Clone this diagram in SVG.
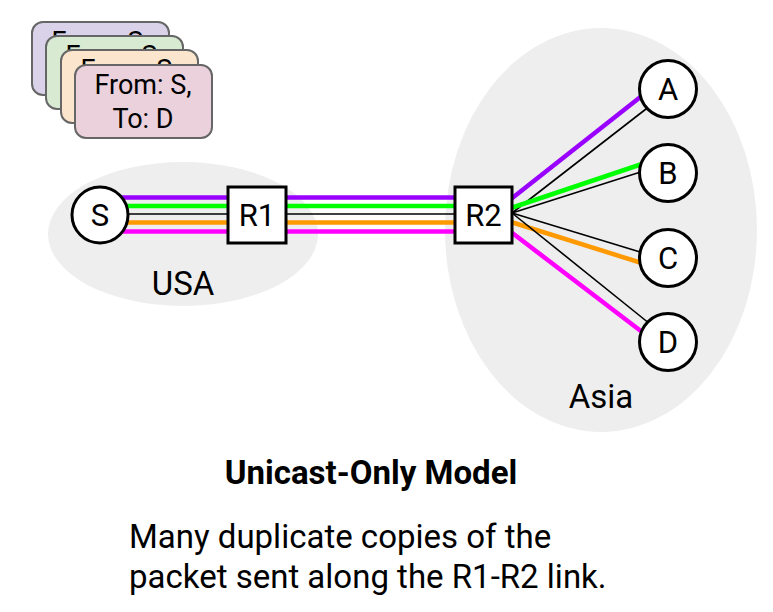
<svg xmlns="http://www.w3.org/2000/svg" width="773" height="612" viewBox="0 0 773 612">
<style>
.region{fill:#eeeeee;stroke:none}
.card{stroke:#666666;stroke-width:2}
.ct{font-family:Roboto,"Liberation Sans",sans-serif;font-size:27px;fill:#000;text-anchor:middle}
.node{fill:#fff;stroke:#000;stroke-width:3}
.nt{font-family:Roboto,"Liberation Sans",sans-serif;font-size:31px;fill:#000;text-anchor:middle}
.lbl{font-family:Roboto,"Liberation Sans",sans-serif;font-size:33px;fill:#000;text-anchor:middle}
.cap{font-family:Roboto,"Liberation Sans",sans-serif;font-size:33px;fill:#000}
.thin{stroke:#000;stroke-width:1.6;fill:none}
.fat{stroke-width:4.5;fill:none}
.pu{stroke:#9900ff}.gr{stroke:#00ff00}.or{stroke:#ff9900}.mg{stroke:#ff00ff}
</style>
<rect width="773" height="612" fill="#fff"/>
<g id="usa-region"><ellipse class="region" cx="183" cy="234" rx="135" ry="72"/><text class="lbl" x="183" y="295">USA</text></g>
<g id="asia-region"><ellipse class="region" cx="601" cy="230" rx="156" ry="202"/><text class="lbl" x="601" y="408">Asia</text></g>
<g id="packets">
<g id="packet-a"><rect class="card" x="32" y="22" width="137" height="73" rx="11" fill="#d9d2e9"/><text class="ct" x="100" y="51">From: S,</text></g>
<g id="packet-b"><rect class="card" x="46" y="36" width="137" height="73" rx="11" fill="#d9ead3"/><text class="ct" x="114" y="65">From: S,</text></g>
<g id="packet-c"><rect class="card" x="61" y="50" width="137" height="73" rx="11" fill="#fce5cd"/><text class="ct" x="129" y="79">From: S,</text></g>
<g id="packet-d"><rect class="card" x="75" y="65" width="137" height="73" rx="11" fill="#ead1dc"/><text class="ct" x="143" y="94">From: S,</text><text class="ct" x="143" y="128">To: D</text></g>
</g>
<g id="connectors">
<line class="fat pu" x1="110" y1="197.5" x2="470" y2="197.5"/>
<line class="fat gr" x1="110" y1="206" x2="470" y2="206"/>
<line class="thin" x1="110" y1="214" x2="470" y2="214"/>
<line class="fat or" x1="110" y1="222.5" x2="470" y2="222.5"/>
<line class="fat mg" x1="110" y1="231.5" x2="470" y2="231.5"/>
<line class="fat pu" x1="511" y1="199" x2="648" y2="91"/>
<line class="thin" x1="512" y1="213" x2="655" y2="102"/>
<line class="fat gr" x1="511" y1="208" x2="648" y2="162"/>
<line class="thin" x1="512" y1="213" x2="650" y2="169"/>
<line class="thin" x1="512" y1="213" x2="650" y2="255"/>
<line class="fat or" x1="511" y1="222" x2="648" y2="265"/>
<line class="fat mg" x1="511" y1="232" x2="650" y2="338"/>
<line class="thin" x1="512" y1="213" x2="655" y2="328"/>
</g>
<g id="S"><circle class="node" cx="100" cy="215" r="28"/><text class="nt" x="100" y="226">S</text></g>
<g id="R1"><rect class="node" x="228" y="187" width="58" height="56"/><text class="nt" x="257" y="226">R1</text></g>
<g id="R2"><rect class="node" x="455" y="187" width="57" height="56"/><text class="nt" x="483.5" y="226">R2</text></g>
<g id="A"><circle class="node" cx="668" cy="89" r="28.5"/><text class="nt" x="668" y="100">A</text></g>
<g id="B"><circle class="node" cx="668" cy="173" r="28.5"/><text class="nt" x="668" y="184">B</text></g>
<g id="C"><circle class="node" cx="668" cy="258" r="28.5"/><text class="nt" x="668" y="269">C</text></g>
<g id="D"><circle class="node" cx="668" cy="342" r="28.5"/><text class="nt" x="668" y="353">D</text></g>
<g id="caption">
<text x="371" y="484" font-family="Roboto,'Liberation Sans',sans-serif" font-size="33" font-weight="bold" text-anchor="middle">Unicast-Only Model</text>
<text class="cap" x="129" y="548">Many duplicate copies of the</text>
<text class="cap" x="129" y="588">packet sent along the R1-R2 link.</text>
</g>
</svg>
